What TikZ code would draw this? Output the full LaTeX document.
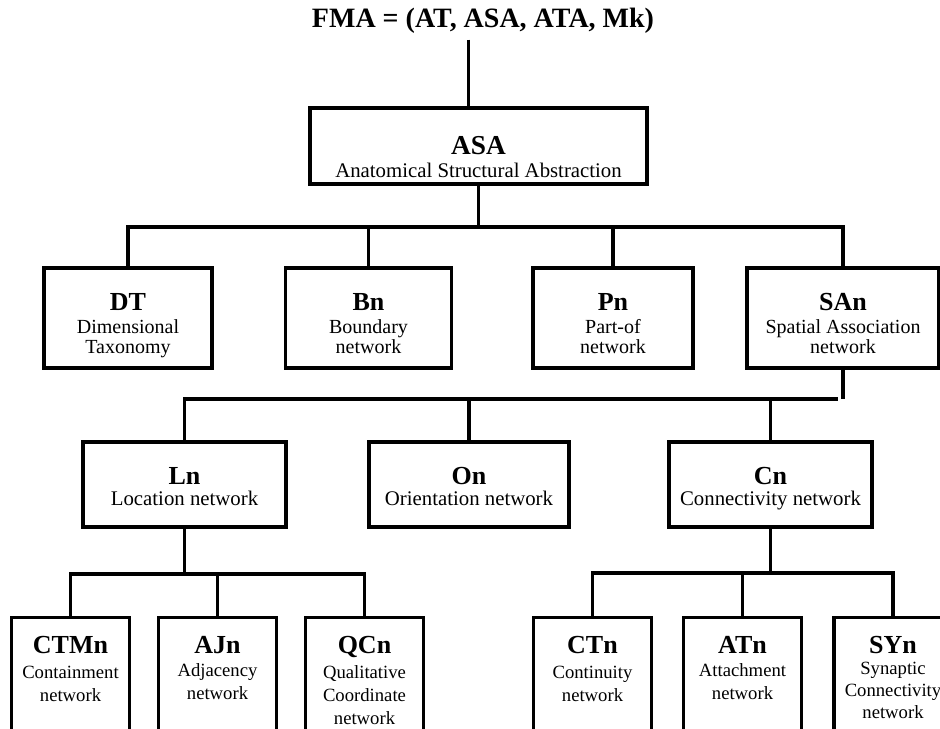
\documentclass[tikz,border=0pt]{standalone}
\usepackage{fontspec}
\setmainfont{Liberation Serif}
\usepackage{tikz}
\usetikzlibrary{positioning}

\newcommand{\hd}[1]{{\fontsize{19.5}{20}\selectfont\bfseries #1}}

\begin{document}
\begin{tikzpicture}[x=0.75pt,y=-0.75pt,line width=2.4pt]
\tikzstyle{frame} = [draw,inner sep=0pt]
\tikzstyle{leaf} = [frame,anchor=north,minimum width=88.5pt,minimum height=115pt]
\tikzstyle{txt} = [align=center,anchor=north,inner sep=0pt,outer sep=0pt]
\tikzstyle{midtxt} = [txt,font=\fontsize{15}{15}\selectfont]
\tikzstyle{lowtxt} = [txt,font=\fontsize{15.6}{16.5}\selectfont]
\tikzstyle{leaftxt} = [txt,font=\fontsize{14}{17.25}\selectfont]
    \useasboundingbox (0,0) rectangle (940,729);
    \clip (0,0) rectangle (940,729);

    % top
    \node[font=\fontsize{21}{22}\selectfont\bfseries] (fma) at (483,21) {FMA = (AT, ASA, ATA, Mk)};
    \node[frame,minimum width=252.75pt,minimum height=57pt] (asa) at (478.5,146) {};
    \node[lowtxt,below=22.3pt of asa.north] (asat) {{\fontsize{20.5}{21}\selectfont\bfseries ASA}\\[0.75pt]Anatomical Structural Abstraction};

    % second row
    \node[frame,minimum width=126pt,minimum height=75pt] (dt) at (128,318) {};
    \node[frame,minimum width=125pt,minimum height=75pt] (bn) at (368.5,318) {};
    \node[frame,minimum width=120pt,minimum height=75pt] (pn) at (613,318) {};
    \node[frame,minimum width=144pt,minimum height=75pt] (san) at (843,318) {};
    \node[midtxt,below=20.1pt of dt.north] (dtt) {\hd{DT}\\[2.25pt]Dimensional\\Taxonomy};
    \node[midtxt,below=20.1pt of bn.north] (bnt) {\hd{Bn}\\[2.25pt]Boundary\\network};
    \node[midtxt,below=20.1pt of pn.north] (pnt) {\hd{Pn}\\[2.25pt]Part-of\\network};
    \node[midtxt,below=20.1pt of san.north] (sant) {\hd{SAn}\\[2.25pt]Spatial Association\\network};

    % third row
    \node[frame,minimum width=152.25pt,minimum height=63.75pt] (ln) at (184.5,484.5) {};
    \node[frame,minimum width=150pt,minimum height=63.75pt] (on) at (469,484.5) {};
    \node[frame,minimum width=152.25pt,minimum height=63.75pt] (cn) at (770.5,484.5) {};
    \node[lowtxt,below=20.2pt of ln.north] (lnt) {\hd{Ln}\\[-0.75pt]Location network};
    \node[lowtxt,below=20.2pt of on.north] (ont) {\hd{On}\\[-0.75pt]Orientation network};
    \node[lowtxt,below=20.2pt of cn.north] (cnt) {\hd{Cn}\\[-0.75pt]Connectivity network};

    % leaves
    \node[leaf] (ctmn) at (70.5,616) {};
    \node[leaf] (ajn) at (217.5,616) {};
    \node[leaf] (qcn) at (364.5,616) {};
    \node[leaf] (ctn) at (592.5,616) {};
    \node[leaf] (atn) at (742.5,616) {};
    \node[leaf] (syn) at (893,616) {};
    \node[leaftxt,below=15.5pt of ctmn.north] (ctmnt) {\hd{CTMn}\\[1.5pt]Containment\\network};
    \node[leaftxt,below=15.5pt of ajn.north] (ajnt) {\hd{AJn}\\Adjacency\\network};
    \node[leaftxt,below=15.5pt of qcn.north] (qcnt) {\hd{QCn}\\[1.5pt]Qualitative\\Coordinate\\network};
    \node[leaftxt,below=15.5pt of ctn.north] (ctnt) {\hd{CTn}\\[1.5pt]Continuity\\network};
    \node[leaftxt,below=15.5pt of atn.north] (atnt) {\hd{ATn}\\Attachment\\network};
    \node[leaftxt,below=15.5pt of syn.north] (synt) {\hd{SYn}\\[-1.5pt]Synaptic\\[-0.75pt]Connectivity\\[-0.75pt]network};

    \coordinate (b1) at (478.5,227);
    \coordinate (b2) at (838,399);
    \coordinate (b3) at (172,574);
    \coordinate (b4) at (765,573);

    \draw ([xshift=-10.9pt]fma.south) -- ([xshift=-10.9pt]fma.south |- asa.north);
    \draw (asa) -- (b1);
    \draw (dt) |- (b1) -| (san);
    \draw (bn) -- (bn |- b1);
    \draw (pn) -- (pn |- b1);

    \draw (san) -- (san |- b2);
    \draw (ln) |- (b2);
    \draw (on) -- (on |- b2);
    \draw (cn) -- (cn |- b2);

    \draw (ln) -- (ln |- b3);
    \draw (ctmn) |- (b3) -| (qcn);
    \draw (ajn) -- (ajn |- b3);
    \draw (cn) -- (cn |- b4);
    \draw (ctn) |- (b4) -| (syn);
    \draw (atn) -- (atn |- b4);
\end{tikzpicture}
\end{document}
